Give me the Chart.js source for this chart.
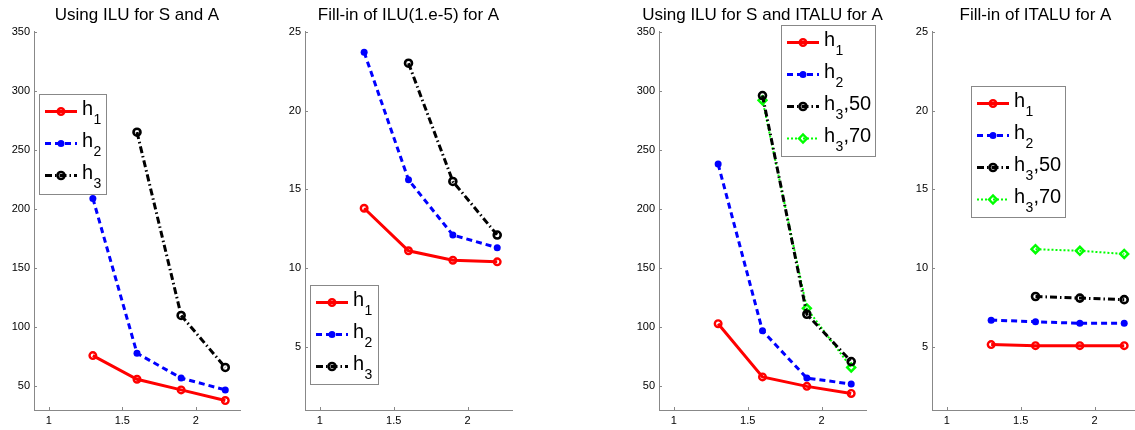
<!DOCTYPE html>
<html>
<head>
<meta charset="utf-8">
<script src="https://cdn.jsdelivr.net/npm/chart.js@4.4.1/dist/chart.umd.min.js"></script>
<style>
  body { margin: 0; background: #fff; width: 1135px; height: 430px; overflow: hidden; position: relative; }
  .panel { position: absolute; top: 0; height: 430px; }
</style>
</head>
<body>
<div class="panel" style="left:-6px"><canvas id="c1" width="286" height="430"></canvas></div>
<div class="panel" style="left:265px"><canvas id="c2" width="287" height="430"></canvas></div>
<div class="panel" style="left:619px"><canvas id="c3" width="287" height="430"></canvas></div>
<div class="panel" style="left:892px"><canvas id="c4" width="287" height="430"></canvas></div>
<script>
// data
const xVals = [1.3, 1.6, 1.9, 2.2];
const xTicks = [1, 1.5, 2];
const yTicksIter = [50, 100, 150, 200, 250, 300, 350];
const yTicksFill = [5, 10, 15, 20, 25];

const titles = ['Using ILU for S and A', 'Fill-in of ILU(1.e-5) for A',
                'Using ILU for S and ITALU for A', 'Fill-in of ITALU for A'];

const iluH1 = [76, 56, 47, 38];
const iluH2 = [209, 78, 57, 47];
const iluH3 = [null, 265, 110, 66];

const fillIluH1 = [13.8, 11.1, 10.5, 10.4];
const fillIluH2 = [23.7, 15.6, 12.1, 11.3];
const fillIluH3 = [null, 23.0, 15.5, 12.1];

const italuH1 = [103, 58, 50, 44];
const italuH2 = [238, 97, 57, 52];
const italuH3_50 = [null, 296, 111, 71];
const italuH3_70 = [null, 292, 116, 66];

const fillItaluH1 = [5.15, 5.08, 5.08, 5.08];
const fillItaluH2 = [6.7, 6.6, 6.5, 6.5];
const fillItaluH3_50 = [null, 8.2, 8.1, 8.0];
const fillItaluH3_70 = [null, 11.2, 11.1, 10.9];

Chart.defaults.font.family = "'Liberation Sans', Arial, sans-serif";
Chart.defaults.color = '#000';

const AXIS = '#888';

function pts(arr) {
  return xVals.map((x, i) => ({ x: x, y: arr[i] })).filter(p => p.y !== null);
}

// line styles (matlab-ish)
const styles = {
  red:   { borderColor: '#ff0000', borderWidth: 3, borderDash: [], pointStyle: 'circle', pointRadius: 3.3, pointBorderWidth: 2.4, pointBackgroundColor: 'rgba(0,0,0,0)' },
  blue:  { borderColor: '#0000ff', borderWidth: 3, borderDash: [6, 4], pointStyle: 'circle', pointRadius: 3.5, pointBorderWidth: 0, pointBackgroundColor: '#0000ff' },
  black: { borderColor: '#000000', borderWidth: 3, borderDash: [7, 3, 1.5, 3], pointStyle: 'circle', pointRadius: 3.5, pointBorderWidth: 2.6, pointBackgroundColor: 'rgba(0,0,0,0)' },
  green: { borderColor: '#00ff00', borderWidth: 2, borderDash: [2, 2], pointStyle: 'rectRot', pointRadius: 4, pointBorderWidth: 2.4, pointBackgroundColor: 'rgba(0,0,0,0)' }
};

function ds(label, arr, style) {
  const s = styles[style];
  return Object.assign({ label: label, data: pts(arr), pointBorderColor: s.borderColor, fill: false, tension: 0 }, s);
}

// inward tick marks like matlab
const innerTicks = {
  id: 'innerTicks',
  afterDraw(chart) {
    const { ctx, chartArea, scales } = chart;
    ctx.save();
    ctx.strokeStyle = AXIS;
    ctx.lineWidth = 1;
    ctx.beginPath();
    scales.x.ticks.forEach(t => {
      const px = Math.round(scales.x.getPixelForValue(t.value)) + 0.5;
      ctx.moveTo(px, chartArea.bottom);
      ctx.lineTo(px, chartArea.bottom - 3);
    });
    scales.y.ticks.forEach(t => {
      const py = Math.round(scales.y.getPixelForValue(t.value)) + 0.5;
      ctx.moveTo(chartArea.left, py);
      ctx.lineTo(chartArea.left + 3, py);
    });
    ctx.stroke();
    ctx.restore();
  }
};

// boxed legend inside the axes, labels like h_1 -> h with subscript
const boxLegend = {
  id: 'boxLegend',
  afterDatasetsDraw(chart, args, opts) {
    const { ctx, chartArea } = chart;
    const x0 = Math.round(chartArea.left + opts.x), y0 = Math.round(chartArea.top + opts.y);
    ctx.save();
    ctx.fillStyle = '#fff';
    ctx.fillRect(x0, y0, opts.w, opts.h);
    ctx.strokeStyle = AXIS;
    ctx.lineWidth = 1;
    ctx.strokeRect(x0 + 0.5, y0 + 0.5, opts.w, opts.h);
    chart.data.datasets.forEach((d, i) => {
      const y = y0 + 17.5 + i * 32;
      ctx.setLineDash(d.borderDash);
      ctx.strokeStyle = d.borderColor;
      ctx.lineWidth = d.borderWidth;
      ctx.beginPath();
      ctx.moveTo(x0 + 6, y);
      ctx.lineTo(x0 + 38, y);
      ctx.stroke();
      ctx.setLineDash([]);
      ctx.fillStyle = d.pointBackgroundColor;
      ctx.strokeStyle = d.borderColor;
      ctx.lineWidth = d.pointBorderWidth;
      Chart.helpers.drawPoint(ctx, { pointStyle: d.pointStyle, radius: d.pointRadius, borderWidth: d.pointBorderWidth, rotation: 0 }, x0 + 22, y);

      const parts = d.label.split('_');
      const sub = parts[1].charAt(0), rest = parts[1].slice(1);
      let tx = x0 + 43;
      ctx.fillStyle = '#000';
      ctx.textBaseline = 'alphabetic';
      ctx.textAlign = 'left';
      ctx.font = "20px 'Liberation Sans', Arial, sans-serif";
      ctx.fillText(parts[0], tx, y + 3.5);
      tx += ctx.measureText(parts[0]).width + 0.5;
      ctx.font = "14px 'Liberation Sans', Arial, sans-serif";
      ctx.fillText(sub, tx, y + 12);
      tx += ctx.measureText(sub).width;
      ctx.font = "20px 'Liberation Sans', Arial, sans-serif";
      if (rest) ctx.fillText(rest, tx, y + 3.5);
    });
    ctx.restore();
  }
};

function makeChart(id, title, datasets, yMin, yMax, yTicks, legendPos) {
  return new Chart(document.getElementById(id), {
    type: 'line',
    data: { datasets: datasets },
    options: {
      responsive: false,
      animation: false,
      layout: { padding: 0 },
      plugins: {
        legend: { display: false },
        tooltip: { enabled: false },
        title: {
          display: true,
          text: title,
          font: { size: 17, weight: 'normal', lineHeight: 1.2 },
          padding: { top: 5, bottom: 6.3 }
        },
        boxLegend: legendPos
      },
      scales: {
        x: {
          type: 'linear',
          min: 0.9,
          max: 2.3,
          afterBuildTicks: s => { s.ticks = xTicks.map(v => ({ value: v })); },
          afterFit: s => { s.height = 20; },
          grid: { display: false, drawTicks: false },
          border: { color: AXIS, width: 1 },
          ticks: { font: { size: 11 }, padding: 4, autoSkip: false, maxRotation: 0, callback: v => String(v) }
        },
        y: {
          type: 'linear',
          min: yMin,
          max: yMax,
          afterBuildTicks: s => { s.ticks = yTicks.map(v => ({ value: v })); },
          afterFit: s => { s.width = 40; },
          grid: { display: false, drawTicks: false },
          border: { color: AXIS, width: 1 },
          ticks: { font: { size: 11 }, padding: 4, autoSkip: false, callback: v => String(v) }
        },
        // empty right-hand spacer so the title centres over the plot
        yr: {
          type: 'linear',
          position: 'right',
          afterFit: s => { s.width = 40; },
          grid: { display: false, drawTicks: false },
          border: { display: false },
          ticks: { display: false }
        }
      }
    },
    plugins: [innerTicks, boxLegend]
  });
}

makeChart('c1', titles[0], [
  ds('h_1', iluH1, 'red'),
  ds('h_2', iluH2, 'blue'),
  ds('h_3', iluH3, 'black')
], 30, 350, yTicksIter, { x: 5, y: 62, w: 67, h: 100 });

makeChart('c2', titles[1], [
  ds('h_1', fillIluH1, 'red'),
  ds('h_2', fillIluH2, 'blue'),
  ds('h_3', fillIluH3, 'black')
], 1, 25, yTicksFill, { x: 5, y: 253, w: 68, h: 99 });

makeChart('c3', titles[2], [
  ds('h_1', italuH1, 'red'),
  ds('h_2', italuH2, 'blue'),
  ds('h_3,50', italuH3_50, 'black'),
  ds('h_3,70', italuH3_70, 'green')
], 30, 350, yTicksIter, { x: 122, y: -7, w: 94, h: 131 });

makeChart('c4', titles[3], [
  ds('h_1', fillItaluH1, 'red'),
  ds('h_2', fillItaluH2, 'blue'),
  ds('h_3,50', fillItaluH3_50, 'black'),
  ds('h_3,70', fillItaluH3_70, 'green')
], 1, 25, yTicksFill, { x: 39, y: 54, w: 94, h: 131 });
</script>
</body>
</html>
